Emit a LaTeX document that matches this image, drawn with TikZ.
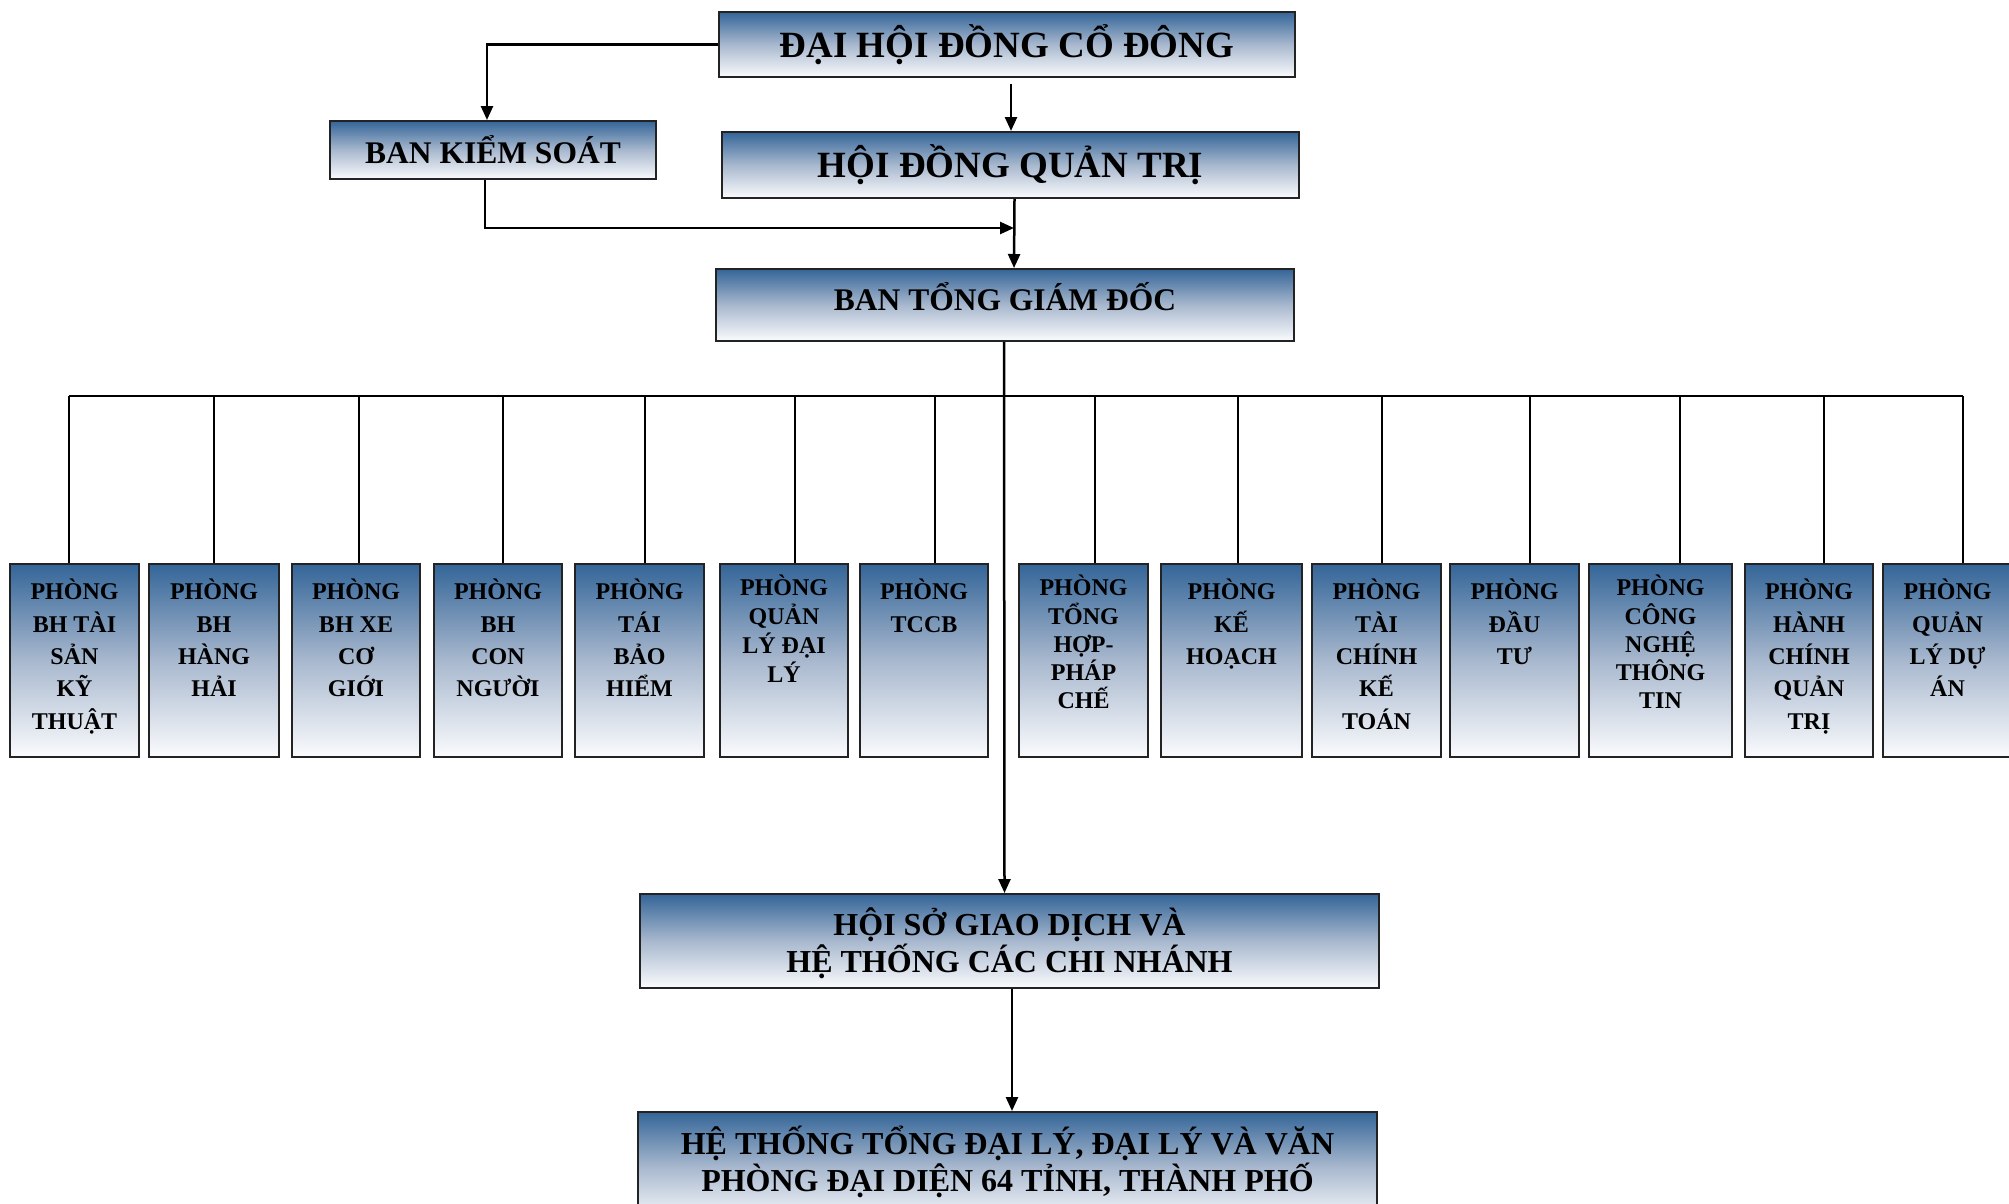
\documentclass[tikz,border=0pt]{standalone}
\usepackage{fontspec}
\setmainfont{Liberation Serif}
\usetikzlibrary{arrows.meta,positioning}
\definecolor{topblue}{RGB}{52,101,152}
\definecolor{midblue}{RGB}{168,184,206}
\definecolor{botwhite}{RGB}{250,251,253}
\definecolor{edge}{RGB}{35,35,35}
\begin{document}
\begin{tikzpicture}[x=1pt,y=-1pt,
  box/.style={draw=edge, line width=2pt, rectangle, inner sep=0pt,
    top color=topblue, bottom color=botwhite, middle color=midblue},
  dept/.style={box, minimum width=#1, minimum height=193pt},
  bigtxt/.style={font=\fontsize{37}{40}\selectfont\bfseries, inner sep=0pt},
  medtxt/.style={font=\fontsize{31.5}{36}\selectfont\bfseries, inner sep=0pt},
  lowtxt/.style={font=\fontsize{32}{37}\selectfont\bfseries, inner sep=0pt, align=center},
  dtxt/.style={font=\fontsize{24}{32.3}\selectfont\bfseries, inner sep=0pt, align=center},
  dtight/.style={font=\fontsize{24}{28.2}\selectfont\bfseries, inner sep=0pt, align=center},
  conn/.style={line width=2.5pt, draw=black},
  arr/.style={conn, -{Triangle[length=14pt,width=12pt]}}
]
\useasboundingbox (0,0) rectangle (2009,1203);

% top level
\node[box, minimum width=576pt, minimum height=65pt] (dh) at (1007,44.5) {};
\node[bigtxt] (dht) at (dh.center) {ĐẠI HỘI ĐỒNG CỔ ĐÔNG};
\node[box, minimum width=326pt, minimum height=58pt] (bks) at (493,150) {};
\node[medtxt] (bkst) at (bks.center) {BAN KIỂM SOÁT};
\node[box, minimum width=577pt, minimum height=66pt] (hd) at (1010.5,165) {};
\node[bigtxt] (hdt) at (hd.center) {HỘI ĐỒNG QUẢN TRỊ};
\node[box, minimum width=578pt, minimum height=72pt] (bt) at (1005,305) {};
\node[medtxt] (btt) at (1005,297) {BAN TỔNG GIÁM ĐỐC};

% lower boxes
\node[box, minimum width=739pt, minimum height=94pt] (hs) at (1009.5,941) {};
\node[lowtxt] (hst) at (1009.5,943.5) {HỘI SỞ GIAO DỊCH VÀ\\HỆ THỐNG CÁC CHI NHÁNH};
\node[box, minimum width=739pt, minimum height=110pt] (ht) at (1007.5,1167) {};
\node[lowtxt] (htt) at (1007.5,1161.5) {HỆ THỐNG TỔNG ĐẠI LÝ, ĐẠI LÝ VÀ VĂN\\PHÒNG ĐẠI DIỆN 64 TỈNH, THÀNH PHỐ};

% department boxes
\node[dept=129pt] (b1) at (74.5,660.5) {};
\node[dept=130pt] (b2) at (214,660.5) {};
\node[dept=128pt] (b3) at (356,660.5) {};
\node[dept=128pt] (b4) at (498,660.5) {};
\node[dept=129pt] (b5) at (639.5,660.5) {};
\node[dept=128pt] (b6) at (784,660.5) {};
\node[dept=128pt] (b7) at (924,660.5) {};
\node[dept=129pt] (b8) at (1083.5,660.5) {};
\node[dept=141pt] (b9) at (1231.5,660.5) {};
\node[dept=129pt] (b10) at (1376.5,660.5) {};
\node[dept=129pt] (b11) at (1514.5,660.5) {};
\node[dept=143pt] (b12) at (1660.5,660.5) {};
\node[dept=128pt] (b13) at (1809,660.5) {};
\node[dept=129pt] (b14) at (1947.5,660.5) {};

\node[dtxt, below=16pt of b1.north] (t1) {\rule{0pt}{20pt}PHÒNG\\BH TÀI\\SẢN\\KỸ\\THUẬT};
\node[dtxt, below=16pt of b2.north] (t2) {\rule{0pt}{20pt}PHÒNG\\BH\\HÀNG\\HẢI};
\node[dtxt, below=16pt of b3.north] (t3) {\rule{0pt}{20pt}PHÒNG\\BH XE\\CƠ\\GIỚI};
\node[dtxt, below=16pt of b4.north] (t4) {\rule{0pt}{20pt}PHÒNG\\BH\\CON\\NGƯỜI};
\node[dtxt, below=16pt of b5.north] (t5) {\rule{0pt}{20pt}PHÒNG\\TÁI\\BẢO\\HIỂM};
\node[dtight, font=\fontsize{24}{29}\selectfont\bfseries, below=12pt of b6.north] (t6) {\rule{0pt}{20pt}PHÒNG\\QUẢN\\LÝ ĐẠI\\LÝ};
\node[dtxt, below=16pt of b7.north] (t7) {\rule{0pt}{20pt}PHÒNG\\TCCB};
\node[dtight, below=12pt of b8.north] (t8) {\rule{0pt}{20pt}PHÒNG\\TỔNG\\HỢP-\\PHÁP\\CHẾ};
\node[dtxt, below=16pt of b9.north] (t9) {\rule{0pt}{20pt}PHÒNG\\KẾ\\HOẠCH};
\node[dtxt, below=16pt of b10.north] (t10) {\rule{0pt}{20pt}PHÒNG\\TÀI\\CHÍNH\\KẾ\\TOÁN};
\node[dtxt, below=16pt of b11.north] (t11) {\rule{0pt}{20pt}PHÒNG\\ĐẦU\\TƯ};
\node[dtight, below=12pt of b12.north] (t12) {\rule{0pt}{20pt}PHÒNG\\CÔNG\\NGHỆ\\THÔNG\\TIN};
\node[dtxt, below=16pt of b13.north] (t13) {\rule{0pt}{20pt}PHÒNG\\HÀNH\\CHÍNH\\QUẢN\\TRỊ};
\node[dtxt, below=16pt of b14.north] (t14) {\rule{0pt}{20pt}PHÒNG\\QUẢN\\LÝ DỰ\\ÁN};

% connectors
\coordinate (bus) at (0,396);
\coordinate (j) at (1014,228);
\draw[arr] (dh.west) -| ([xshift=-6pt]bks.north);
\draw[arr] ([shift={(4,6)}]dh.south) -- ([xshift=0.5pt]hd.north);
\draw[arr] ([xshift=4pt]hd.south) -- ([xshift=9pt]bt.north);
\draw[arr] ([xshift=-8pt]bks.south) |- (j);
\draw[arr] ([xshift=-1pt]bt.south) -- ([xshift=-5pt]hs.north);
\draw[arr] ([xshift=2.5pt]hs.south) -- ([xshift=4.5pt]ht.north);

\draw[line width=2.5pt] ([xshift=-5.5pt]b1.north |- bus) -- ([xshift=15.5pt]b14.north |- bus);
\draw[conn] ([xshift=-5.5pt]b1.north |- bus) -- ([xshift=-5.5pt]b1.north);
\draw[conn] (b2.north |- bus) -- (b2.north);
\draw[conn] ([xshift=3pt]b3.north |- bus) -- ([xshift=3pt]b3.north);
\draw[conn] ([xshift=5pt]b4.north |- bus) -- ([xshift=5pt]b4.north);
\draw[conn] ([xshift=5.5pt]b5.north |- bus) -- ([xshift=5.5pt]b5.north);
\draw[conn] ([xshift=11pt]b6.north |- bus) -- ([xshift=11pt]b6.north);
\draw[conn] ([xshift=11pt]b7.north |- bus) -- ([xshift=11pt]b7.north);
\draw[conn] ([xshift=11.5pt]b8.north |- bus) -- ([xshift=11.5pt]b8.north);
\draw[conn] ([xshift=6.5pt]b9.north |- bus) -- ([xshift=6.5pt]b9.north);
\draw[conn] ([xshift=5.5pt]b10.north |- bus) -- ([xshift=5.5pt]b10.north);
\draw[conn] ([xshift=15.5pt]b11.north |- bus) -- ([xshift=15.5pt]b11.north);
\draw[conn] ([xshift=19.5pt]b12.north |- bus) -- ([xshift=19.5pt]b12.north);
\draw[conn] ([xshift=15pt]b13.north |- bus) -- ([xshift=15pt]b13.north);
\draw[conn] ([xshift=15.5pt]b14.north |- bus) -- ([xshift=15.5pt]b14.north);
\end{tikzpicture}
\end{document}
